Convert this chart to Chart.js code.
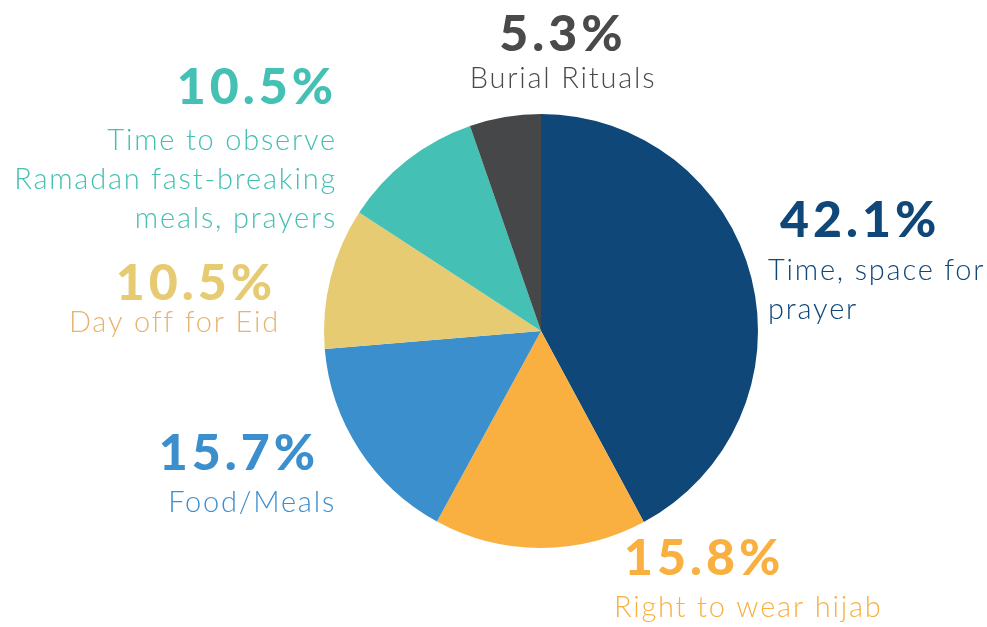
<!DOCTYPE html>
<html>
<head>
<meta charset="utf-8">
<script src="https://cdn.jsdelivr.net/npm/chart.js@4"></script>
<style>
  html, body { margin: 0; padding: 0; background: #fff; }
  #wrap { width: 987px; height: 627px; position: relative; }
</style>
</head>
<body>
<div id="wrap"><canvas id="pieChart"></canvas></div>
<script>
// data
const categories = ['Time, space for prayer', 'Right to wear hijab', 'Food/Meals', 'Day off for Eid',
  'Time to observe Ramadan fast-breaking meals, prayers', 'Burial Rituals'];
const shares = [42.1, 15.8, 15.7, 10.5, 10.5, 5.3];
const labelLines = [
  ['Time, space for', 'prayer'],
  ['Right to wear hijab'],
  ['Food/Meals'],
  ['Day off for Eid'],
  ['Time to observe', 'Ramadan fast-breaking', 'meals, prayers'],
  ['Burial Rituals']
];

const sliceColors = ['#0f4779', '#f9b040', '#3b8fcd', '#e6cb73', '#45c0b4', '#454749'];
const textColors = ['#0f4779', '#f9b040', '#3b8fcd', '#e8b36e', '#45c0b4', '#4a4a4a'];

// where each label block sits: [x of percent, baseline of percent, x of text, first text baseline, align]
const labelPos = [
  [780, 237, 768, 280, 'left'],
  [624, 575, 614, 617, 'left'],
  [319, 470, 336, 512, 'right'],
  [276, 300, 280, 332, 'right'],
  [337, 104, 337, 150, 'right'],
  [563, 51, 563, 88, 'center']
];

const outerLabels = {
  id: 'outerLabels',
  afterDraw(chart) {
    const ctx = chart.ctx;
    ctx.save();
    labelPos.forEach((p, i) => {
      ctx.textAlign = p[4];
      ctx.textBaseline = 'alphabetic';
      ctx.font = '900 50px Lato';
      ctx.letterSpacing = '4px';
      ctx.fillStyle = i === 3 ? sliceColors[3] : textColors[i];
      ctx.fillText(shares[i].toFixed(1) + '%', p[0], p[1]);
      ctx.font = '300 29px Lato';
      ctx.letterSpacing = '1.8px';
      ctx.fillStyle = textColors[i];
      labelLines[i].forEach((line, j) => {
        ctx.fillText(line, p[2], p[3] + j * 39);
      });
    });
    ctx.restore();
  }
};

new Chart(document.getElementById('pieChart'), {
  type: 'pie',
  data: {
    labels: categories,
    datasets: [{
      data: shares,
      backgroundColor: sliceColors,
      borderWidth: 0
    }]
  },
  options: {
    responsive: true,
    maintainAspectRatio: false,
    animation: false,
    layout: { padding: { top: 114, bottom: 79, left: 324, right: 229 } },
    plugins: {
      legend: { display: false },
      tooltip: { enabled: false }
    }
  },
  plugins: [outerLabels]
});
</script>
</body>
</html>
